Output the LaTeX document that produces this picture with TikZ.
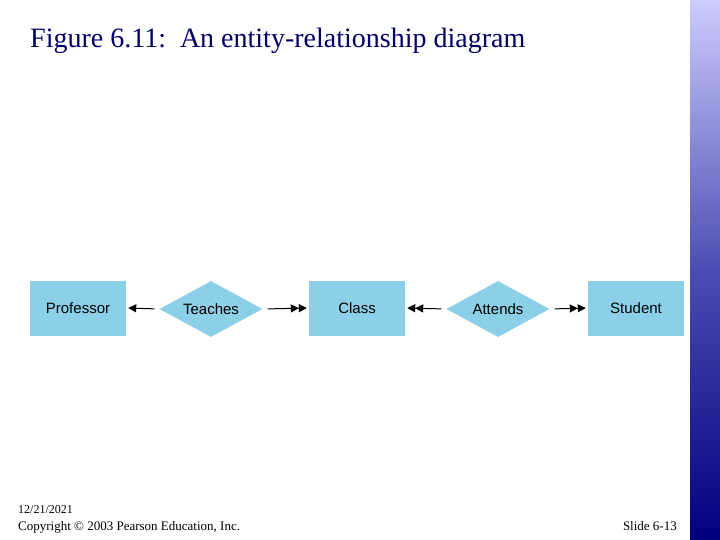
\documentclass[tikz,border=0pt]{standalone}
\usepackage{fontspec}
\setmainfont{Liberation Serif}
\newfontfamily\hfont{Liberation Sans}
\usetikzlibrary{shapes.geometric,arrows.meta}
\definecolor{ent}{RGB}{140,208,232}
\tikzset{
 ent/.style={fill=ent,draw=none,minimum width=96pt,minimum height=55pt,font=\hfont\fontsize{15}{17}\selectfont,inner sep=0pt},
 rel/.style={diamond,fill=ent,draw=none,minimum width=103pt,minimum height=56pt,aspect=1.8,inner sep=0pt,font=\hfont\fontsize{15}{17}\selectfont},
 conn/.style={line width=1pt,shorten <=5pt,shorten >=2pt},
 one/.style={-{Triangle[length=8pt,width=8pt,fill=black]}},
 two/.style={-{Triangle[length=8pt,width=8pt,fill=black]Triangle[length=8pt,width=8pt,fill=black]}}
}
\begin{document}
\begin{tikzpicture}[x=1pt,y=1pt]
\useasboundingbox (0,-540) rectangle (720,0);
\shade[top color=blue!20!white,bottom color=blue!50!black,middle color=blue!40!gray] (690,-540) rectangle (720,0);
\node[anchor=base west,font=\fontsize{28}{32}\selectfont,text=blue!40!black,inner sep=0pt] (t) at (30,-48) {Figure 6.11:\ \ An entity-relationship diagram};
\node[ent] (p) at (78,-308) {Professor};
\node[rel] (te) at (211,-309) {Teaches};
\node[ent] (c) at (357,-308) {Class};
\node[rel] (at) at (498,-309) {Attends};
\node[ent] (s) at (636,-308) {Student};
\draw[conn,one] (te.west) -- (p.east);
\draw[conn,two] (te.east) -- (c.west);
\draw[conn,two] (at.west) -- (c.east);
\draw[conn,two] (at.east) -- (s.west);
\node[anchor=base west,font=\fontsize{12}{14}\selectfont,inner sep=0pt] (d) at (18,-513) {12/21/2021};
\node[anchor=base west,font=\fontsize{13}{15}\selectfont,inner sep=0pt] (cp) at (18,-530) {Copyright © 2003 Pearson Education, Inc.};
\node[anchor=base east,font=\fontsize{13}{15}\selectfont,inner sep=0pt] (sl) at (677,-530) {Slide 6-13};
\end{tikzpicture}
\end{document}
